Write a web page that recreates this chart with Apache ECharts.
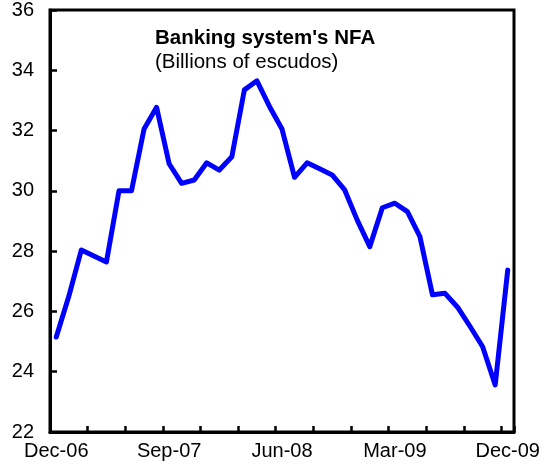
<!DOCTYPE html>
<html>
<head>
<meta charset="utf-8">
<script src="https://cdn.jsdelivr.net/npm/echarts@6/dist/echarts.min.js"></script>
<style>
html,body{margin:0;padding:0;background:#fff;}
#chart{width:549px;height:473px;}
</style>
</head>
<body>
<div id="chart"></div>
<script>
var categories = ['Dec-06','Jan-07','Feb-07','Mar-07','Apr-07','May-07','Jun-07','Jul-07','Aug-07','Sep-07','Oct-07','Nov-07','Dec-07',
  'Jan-08','Feb-08','Mar-08','Apr-08','May-08','Jun-08','Jul-08','Aug-08','Sep-08','Oct-08','Nov-08','Dec-08',
  'Jan-09','Feb-09','Mar-09','Apr-09','May-09','Jun-09','Jul-09','Aug-09','Sep-09','Oct-09','Nov-09','Dec-09'];
var nfaValues = [25.15,26.5,28.04,27.84,27.64,30.0,30.0,32.05,32.77,30.9,30.25,30.36,30.93,
  30.69,31.13,33.35,33.65,32.8,32.05,30.45,30.93,30.73,30.53,30.03,29.03,
  28.15,29.44,29.59,29.31,28.48,26.55,26.6,26.14,25.5,24.83,23.56,27.37];
var yTicks = {min:22, max:36, step:2};
var titleText = "Banking system's NFA";
var subtitleText = "(Billions of escudos)";

var FONT = "'Liberation Sans', Arial, sans-serif";
var chart = echarts.init(document.getElementById('chart'), null, {renderer:'canvas'});
chart.setOption({
  animation:false,
  backgroundColor:'#fff',
  title:[
    {text:titleText, left:155, top:28, padding:0,
     textStyle:{fontFamily:FONT, fontSize:20.5, fontWeight:'bold', color:'#000'}},
    {text:subtitleText, left:155, top:52, padding:0,
     textStyle:{fontFamily:FONT, fontSize:20.5, fontWeight:'normal', color:'#000'}}
  ],
  grid:{left:50, right:35, top:10, bottom:41, show:true, borderColor:'#000', borderWidth:3, backgroundColor:'transparent'},
  xAxis:{
    type:'category', data:categories, boundaryGap:true,
    axisLine:{lineStyle:{color:'#000', width:3}},
    axisTick:{show:true, inside:true, interval:2, length:6, lineStyle:{color:'#000', width:2.5}},
    axisLabel:{interval:8, margin:9, color:'#000', fontFamily:FONT, fontSize:20},
    splitLine:{show:false}
  },
  yAxis:{
    type:'value', min:yTicks.min, max:yTicks.max, interval:yTicks.step,
    axisLine:{show:true, lineStyle:{color:'#000', width:3}},
    axisTick:{show:true, inside:true, length:7, lineStyle:{color:'#000', width:2.5}},
    axisLabel:{margin:16, color:'#000', fontFamily:FONT, fontSize:20},
    splitLine:{show:false}
  },
  series:[{
    type:'line', data:nfaValues, showSymbol:false, symbol:'none',
    lineStyle:{color:'#0000FF', width:5, join:'round', cap:'round'},
    itemStyle:{color:'#0000FF'}
  }]
});
</script>
</body>
</html>
